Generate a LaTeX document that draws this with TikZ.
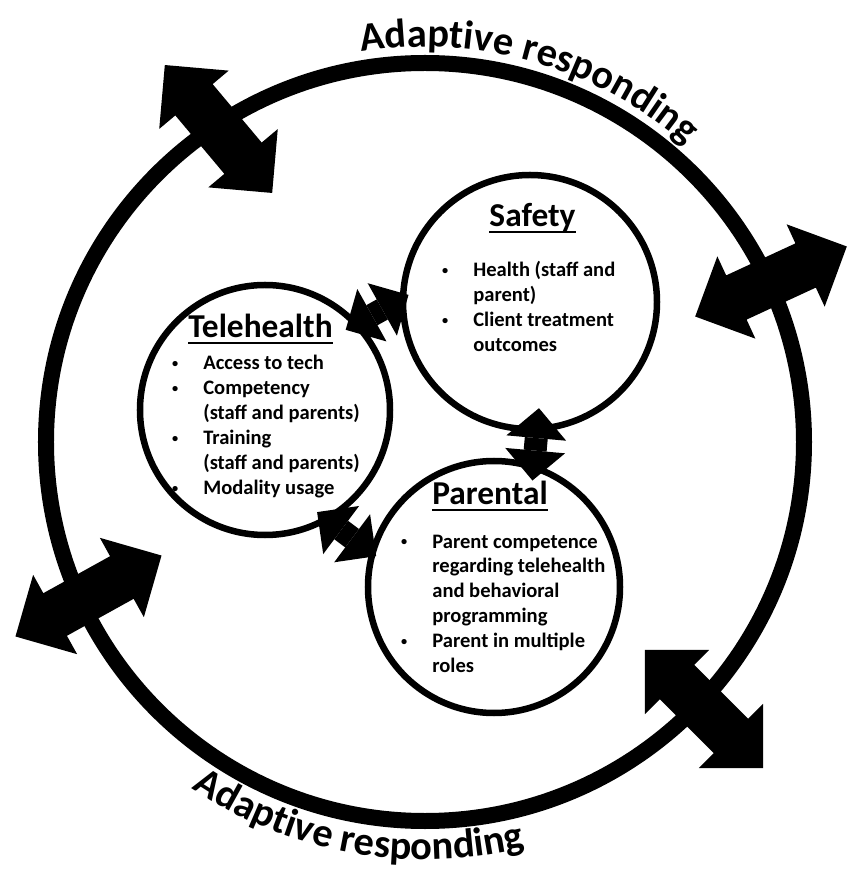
\documentclass[tikz,border=0pt]{standalone}
\usepackage{fontspec}
\setmainfont{Carlito}
\usetikzlibrary{shapes.arrows,arrows.meta,decorations.text}

\newcommand{\headline}[1]{\setbox0=\hbox{#1}\rlap{\rule[-3.65pt]{\wd0}{1.6pt}}\box0}
\newcommand{\itembullet}{\makebox[0pt][r]{\makebox[0pt]{\raisebox{1.5pt}{\fontsize{7}{7}\selectfont\textbullet}}\hspace{16pt}}}
\newcommand{\ringfont}{\fontsize{23}{27}\selectfont\bfseries}

\begin{document}
\begin{tikzpicture}
        % Define styles
        \tikzset{
            zone/.style={circle, draw, line width=0.13cm, inner sep=0pt, minimum size=5cm},
            heading/.style={anchor=base, inner sep=0pt, font=\bfseries\fontsize{19}{22}\selectfont},
            items/.style={anchor=base west, inner sep=0pt, font=\bfseries\fontsize{11.7}{14.2}\selectfont},
            link/.style={{Triangle[width=1.2cm, length=0.6cm, line width=0pt]}-{Triangle[width=1.2cm, length=0.6cm, line width=0pt]}, line width=0.46cm},
            ring_arrow/.style={double arrow, fill, inner xsep=0pt, inner ysep=0.48cm, minimum height=3.34cm, double arrow head extend=0.42cm, double arrow tip angle=90}
        }
        \fill[white] (-8.52,-8.62) rectangle (8.48,8.96);

        % Outer ring
        \coordinate (ring_center) at (-0.02,0.12);
        \draw[line width=0.32cm] (ring_center) circle (7.58);
        \path[decorate, decoration={text along path, text align=center, text={|\ringfont|Adaptive responding}}] (ring_center) ++(125:7.9) arc[start angle=125, end angle=23, radius=7.9];
        \path[decorate, decoration={text along path, text align=center, text={|\ringfont|Adaptive responding}}] (ring_center) ++(212:8.35) arc[start angle=212, end angle=308, radius=8.35];

        % Arrows across the ring
        \node[ring_arrow, rotate=130] (arrow_nw) at (-4.15,6.38) {};
        \node[ring_arrow, rotate=24.8] (arrow_e) at (6.90,3.33) {};
        \node[ring_arrow, rotate=29] (arrow_w) at (-6.75,-2.96) {};
        \node[ring_arrow, rotate=-45] (arrow_se) at (5.56,-5.22) {};

        % Nodes
        \node[zone] (telehealth_node) at (-3.22,0.76) {};
        \node[zone, minimum size=5.08cm] (safety_node) at (2.08,2.92) {};
        \node[zone, minimum size=5.04cm] (parental_node) at (1.36,-2.78) {};

        \node[heading] (telehealth_title) at (-3.31,2.20) {\headline{Telehealth}};
        \node[items] (telehealth_items) at (-4.46,1.56) {\begin{tabular}[t]{@{}l@{}}
            \itembullet Access to tech\\
            \itembullet Competency\\
            (staff and parents)\\
            \itembullet Training\\
            (staff and parents)\\
            \itembullet Modality usage
        \end{tabular}};

        \node[heading] (safety_title) at (2.13,4.42) {\headline{Safety}};
        \node[items] (safety_items) at (0.94,3.42) {\begin{tabular}[t]{@{}l@{}}
            \itembullet Health (staff and\\
            parent)\\
            \itembullet Client treatment\\
            outcomes
        \end{tabular}};

        \node[heading] (parental_title) at (1.28,-1.14) {\headline{Parental}};
        \node[items] (parental_items) at (0.12,-2.0) {\begin{tabular}[t]{@{}l@{}}
            \itembullet Parent competence\\
            regarding telehealth\\
            and behavioral\\
            programming\\
            \itembullet Parent in multiple\\
            roles
        \end{tabular}};

        % Arrows
        \draw[link, shorten <=-0.3cm, shorten >=-0.2cm] (telehealth_node.43) -- (safety_node.179);
        \draw[link, shorten <=-0.48cm, shorten >=-0.33cm] (safety_node.-87) -- (parental_node.72);
        \draw[link, shorten <=-0.3cm, shorten >=-0.16cm] (telehealth_node.-60) -- (parental_node.164);
\end{tikzpicture}
\end{document}
